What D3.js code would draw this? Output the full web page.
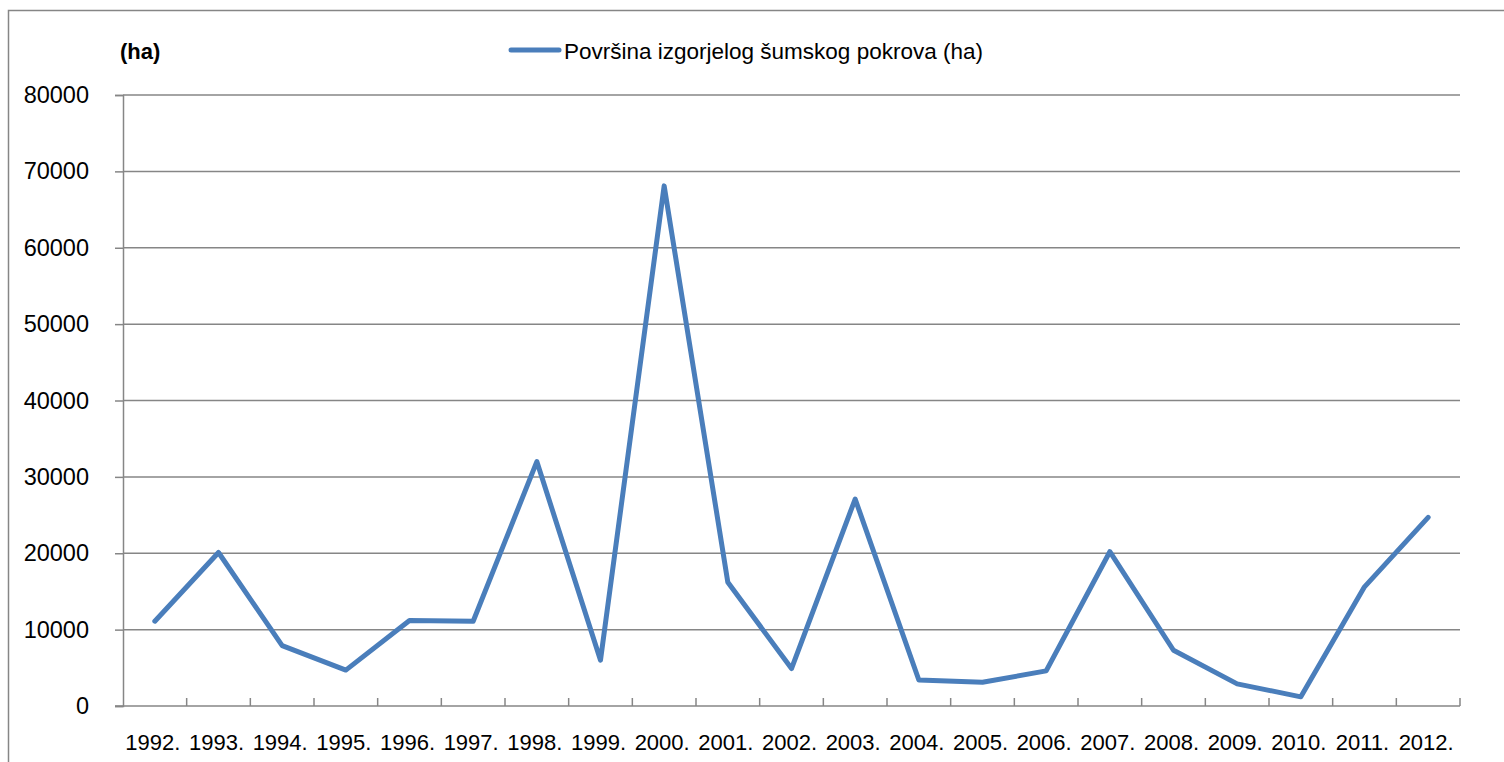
<!DOCTYPE html>
<html>
<head>
<meta charset="utf-8">
<script src="https://cdn.jsdelivr.net/npm/d3@7"></script>
<style>
  body { margin: 0; background: #fff; }
  text { font-family: "Liberation Sans", Arial, sans-serif; fill: #000; }
</style>
</head>
<body>
<svg id="chart" width="1504" height="762"></svg>
<script>
// Years and burned forest area (ha)
var years = ["1992.", "1993.", "1994.", "1995.", "1996.", "1997.", "1998.", "1999.", "2000.", "2001.", "2002.",
             "2003.", "2004.", "2005.", "2006.", "2007.", "2008.", "2009.", "2010.", "2011.", "2012."];
var area = [11100, 20100, 7900, 4700, 11200, 11100, 32000, 6000, 68100, 16200, 4900,
            27100, 3400, 3100, 4600, 20200, 7300, 2900, 1200, 15600, 24700];
var yTicks = [0, 10000, 20000, 30000, 40000, 50000, 60000, 70000, 80000];
var seriesName = "Površina izgorjelog šumskog pokrova (ha)";
var unitLabel = "(ha)";

var plotLeft = 123, plotRight = 1460, plotTop = 95, plotBottom = 706;
var grey = "#868686";
var blue = "#4a7ebb";

var svg = d3.select("#chart");

// outer frame (right/bottom edges sit outside the window)
svg.append("rect")
    .attr("x", 8.5).attr("y", 10.5)
    .attr("width", 1510).attr("height", 770)
    .style("fill", "none")
    .style("stroke", grey)
    .style("stroke-width", 1.5);

var x = d3.scaleBand().domain(years).range([plotLeft, plotRight]);
var y = d3.scaleLinear().domain([0, 80000]).range([plotBottom, plotTop]);

// gridlines
svg.selectAll(".grid")
    .data(yTicks.filter(function(d) { return d > 0; }))
    .enter().append("line")
    .attr("x1", plotLeft).attr("x2", plotRight)
    .attr("y1", function(d) { return y(d); })
    .attr("y2", function(d) { return y(d); })
    .style("stroke", grey)
    .style("stroke-width", 1.5);

// y axis
var yAxis = svg.append("g")
    .attr("transform", "translate(" + plotLeft + ",0)")
    .call(d3.axisLeft(y).tickValues(yTicks).tickSize(8).tickPadding(26).tickFormat(d3.format("d")));
yAxis.select(".domain").style("stroke", grey).style("stroke-width", 1.5);
yAxis.selectAll(".tick line").style("stroke", grey).style("stroke-width", 1.5);
yAxis.selectAll(".tick text")
    .style("font-size", "23.5px")
    .style("font-family", "Liberation Sans, Arial, sans-serif");

// x axis line
svg.append("line")
    .attr("x1", plotLeft - 8).attr("x2", plotRight)
    .attr("y1", plotBottom).attr("y2", plotBottom)
    .style("stroke", grey).style("stroke-width", 1.5);

// x tick marks at category boundaries, pointing up
var bounds = years.map(function(d) { return x(d) + x.bandwidth(); });
svg.selectAll(".xtick")
    .data(bounds)
    .enter().append("line")
    .attr("x1", function(d) { return d; })
    .attr("x2", function(d) { return d; })
    .attr("y1", plotBottom).attr("y2", plotBottom - 8)
    .style("stroke", grey).style("stroke-width", 1.5);

// x labels
svg.selectAll(".xlabel")
    .data(years)
    .enter().append("text")
    .attr("x", function(d) { return x(d) + x.bandwidth() / 2 - 2; })
    .attr("y", 750)
    .attr("text-anchor", "middle")
    .style("font-size", "22px")
    .text(function(d) { return d; });

// data line
var line = d3.line()
    .x(function(d, i) { return x(years[i]) + x.bandwidth() / 2; })
    .y(function(d) { return y(d); });

svg.append("path")
    .datum(area)
    .attr("d", line)
    .style("fill", "none")
    .style("stroke", blue)
    .style("stroke-width", 5)
    .style("stroke-linejoin", "round")
    .style("stroke-linecap", "round");

// unit label
svg.append("text")
    .attr("x", 120).attr("y", 59)
    .style("font-size", "22px")
    .style("font-weight", "bold")
    .text(unitLabel);

// legend
svg.append("line")
    .attr("x1", 511).attr("x2", 559)
    .attr("y1", 50).attr("y2", 50)
    .style("stroke", blue)
    .style("stroke-width", 5)
    .style("stroke-linecap", "round");

svg.append("text")
    .attr("x", 564).attr("y", 59)
    .style("font-size", "22.5px")
    .text(seriesName);
</script>
</body>
</html>
